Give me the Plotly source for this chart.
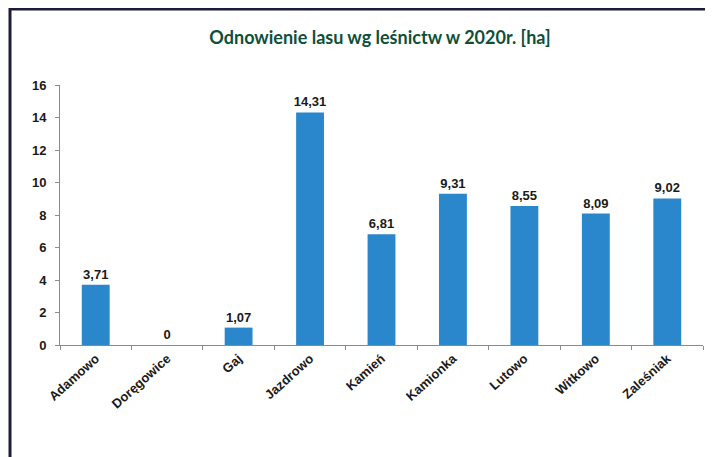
import plotly.graph_objects as go

categories = ["Adamowo", "Doręgowice", "Gaj", "Jazdrowo", "Kamień",
              "Kamionka", "Lutowo", "Witkowo", "Zaleśniak"]
values = [3.71, 0, 1.07, 14.31, 6.81, 9.31, 8.55, 8.09, 9.02]
labels = [f"{v:.2f}".replace(".", ",") if v != 0 else "0" for v in values]
y_ticks = [0, 2, 4, 6, 8, 10, 12, 14, 16]
title = "Odnowienie lasu wg leśnictw w 2020r. [ha]"

W, H = 713, 457
OFF = 8  # page body margin offset
L, R, T, B = 60 - OFF, W - (703 - OFF), 85 - OFF, H - (345 - OFF)

fnt = dict(family="Liberation Sans, Arial", size=13, color="#1a1a1a", weight="bold")

fig = go.Figure(go.Bar(
    x=categories, y=values,
    width=0.39,
    marker=dict(color="#2b87cc", line=dict(color="#1f6fb2", width=0)),
    text=labels, textposition="outside", cliponaxis=False,
    constraintext="none",
    textfont=fnt,
))

def px_x(p):
    return (p - L) / (W - L - R)

def px_y(p):
    return (H - B - p) / (H - T - B)

fig.update_layout(
    width=W, height=H, autosize=False,
    margin=dict(l=L, r=R, t=T, b=B),
    paper_bgcolor="white", plot_bgcolor="white",
    showlegend=False,
    title=dict(text=title, x=(380 - OFF) / W, xanchor="center", y=1 - (38 - OFF) / H,
               yanchor="middle",
               font=dict(family="Lato, Open Sans", size=18, color="#0f4f3a", weight="bold")),
    shapes=[
        dict(type="line", xref="paper", yref="paper",
             x0=px_x(10 - OFF), x1=px_x(W), y0=px_y(1), y1=px_y(1),
             line=dict(color="#1c1c3a", width=3)),
        dict(type="line", xref="paper", yref="paper",
             x0=px_x(10 - OFF), x1=px_x(10 - OFF), y0=px_y(0), y1=px_y(H),
             line=dict(color="#1c1c3a", width=3)),
    ],
)

fig.update_xaxes(
    automargin=False,
    showline=True, linecolor="#8a8a8a", linewidth=1,
    ticks="outside", ticklen=4, tickcolor="#8a8a8a", tickson="boundaries",
    tickangle=-42,
    tickfont=fnt,
    showgrid=False,
)
fig.update_yaxes(
    automargin=False,
    range=[0, 16], tickvals=y_ticks,
    showline=True, linecolor="#8a8a8a", linewidth=1,
    ticks="outside", ticklen=4, tickcolor="#8a8a8a",
    tickfont=fnt,
    showgrid=False, zeroline=False, ticklabelstandoff=6,
)

fig.write_html("out.html")
